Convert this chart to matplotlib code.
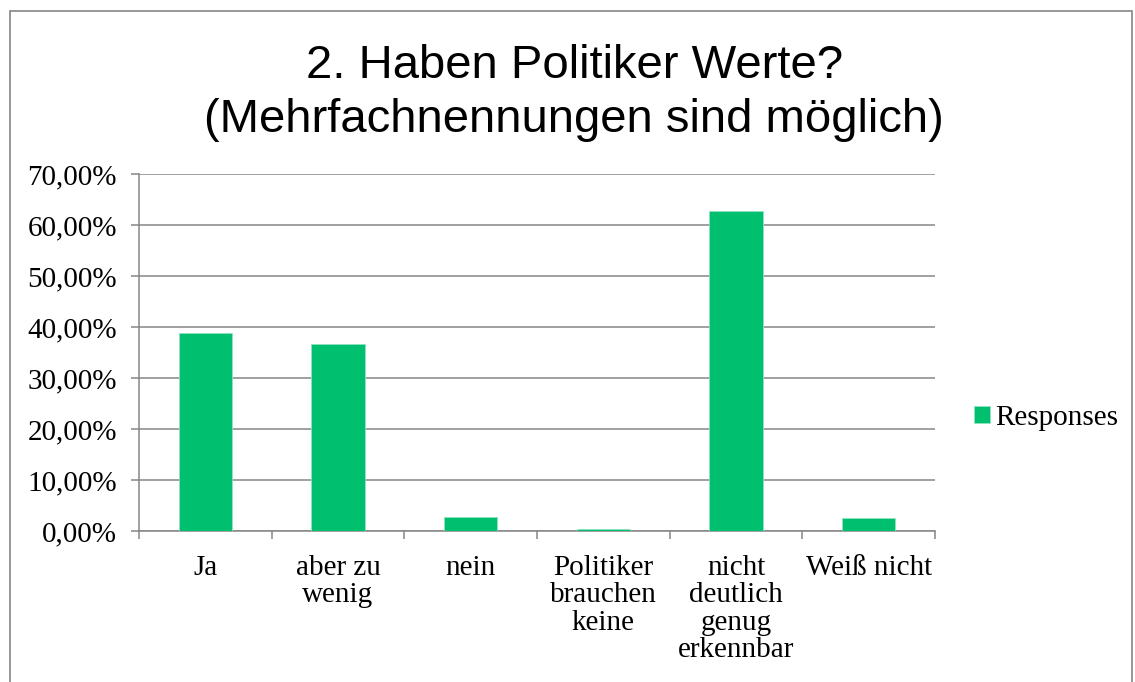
import matplotlib
matplotlib.use("Agg")
import matplotlib.pyplot as plt
from matplotlib.patches import Rectangle
import numpy as np

categories = ["Ja", "aber zu\nwenig", "nein", "Politiker\nbrauchen\nkeine",
              "nicht\ndeutlich\ngenug\nerkennbar", "Weiß nicht"]
values = [38.76, 36.73, 2.75, 0.39, 62.68, 2.55]
yticks = [0, 10, 20, 30, 40, 50, 60, 70]
ytick_labels = ["0,00%", "10,00%", "20,00%", "30,00%", "40,00%", "50,00%", "60,00%", "70,00%"]
title = "2. Haben Politiker Werte?\n(Mehrfachnennungen sind möglich)"
series_name = "Responses"

W, H = 1135, 682
fig = plt.figure(figsize=(W / 100, H / 100), dpi=100)
fig.patch.set_facecolor("white")

# outer chart border
fig.patches.append(Rectangle((10 / W, -0.05), (1132 - 10) / W, 1 - 11 / H + 0.05,
                             transform=fig.transFigure, fill=False,
                             edgecolor="#868686", linewidth=1.2))

ax = fig.add_axes([139 / W, 1 - 531 / H, (935 - 139) / W, (531 - 174) / H])
x = np.arange(len(categories))
bar_color = "#00BF6F"
ax.bar(x, values, width=0.4, color=bar_color, edgecolor="#8fe3c0", linewidth=0.6,
       zorder=3, label=series_name)

ax.set_xlim(-0.5, len(categories) - 0.5)
ax.set_ylim(0, 70)
ax.set_yticks(yticks)
ax.set_yticklabels(ytick_labels)
ax.yaxis.grid(True, color="#868686", linewidth=1.1, zorder=0)
ax.set_axisbelow(True)

serif = "Liberation Serif"
fs = 21
ax.set_xticks(x)
ax.set_xticklabels(categories, fontfamily=serif, fontsize=fs, linespacing=1.08)
ax.set_xticks(np.arange(-0.5, len(categories)), minor=True)
ax.tick_params(axis="x", which="major", length=0, pad=17)
ax.tick_params(axis="x", which="minor", length=6, width=1.1, color="#868686", direction="out")
ax.tick_params(axis="y", length=6, width=1.1, color="#868686", direction="out", pad=10)
for lab in ax.get_yticklabels():
    lab.set_fontfamily(serif)
    lab.set_fontsize(fs)

for s in ["top", "right"]:
    ax.spines[s].set_visible(False)
for s in ["left", "bottom"]:
    ax.spines[s].set_color("#868686")
    ax.spines[s].set_linewidth(1.1)

fig.text(0.506, 1 - 93 / H, title, ha="center", va="center", fontsize=34,
         fontfamily="Liberation Sans", linespacing=1.3)

leg = fig.legend(loc="center left", bbox_to_anchor=(962 / W, 1 - 418 / H),
                 frameon=False, prop={"family": serif, "size": fs},
                 handlelength=0.55, handleheight=0.55, handletextpad=0.2,
                 borderaxespad=0)

fig.savefig("out.png", dpi=100)
